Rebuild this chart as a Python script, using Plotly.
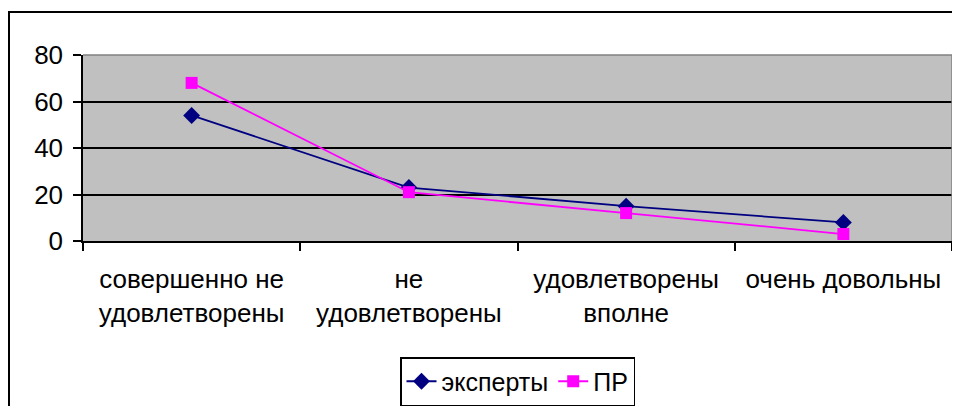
import plotly.graph_objects as go

categories = ["совершенно не<br>удовлетворены", "не<br>удовлетворены",
              "удовлетворены<br>вполне", "очень довольны"]
experts = [54, 23, 15, 8]
pr = [68, 21, 12, 3]
y_ticks = [0, 20, 40, 60, 80]

FONT = "Liberation Sans, Arial, sans-serif"

fig = go.Figure()
fig.add_trace(go.Scatter(
    x=categories, y=experts, name="эксперты", mode="lines+markers",
    line=dict(color="#000080", width=1.8),
    marker=dict(symbol="diamond", size=13, color="#000080"),
))
fig.add_trace(go.Scatter(
    x=categories, y=pr, name="ПР", mode="lines+markers",
    line=dict(color="#FF00FF", width=1.8),
    marker=dict(symbol="square", size=12, color="#FF00FF"),
))

# page body has an 8px margin, so the figure is offset by 8px
W, H = 944, 398
L, R, T, B = 75, 0, 47, 165
pw = W - L - R
ph = H - T - B


def px(x):
    return (x - L) / pw


def py(y):
    return (H - B - y) / ph


fig.update_layout(
    width=W, height=H,
    margin=dict(l=L, r=R, t=T, b=B, pad=0, autoexpand=False),
    paper_bgcolor="white",
    plot_bgcolor="#C0C0C0",
    font=dict(family=FONT, size=26, color="black"),
    showlegend=True,
    legend=dict(
        orientation="h",
        x=0.5, xanchor="center",
        y=py(349), yanchor="top",
        bordercolor="black", borderwidth=1.5,
        bgcolor="white",
        font=dict(family=FONT, size=25, color="black"),
        itemwidth=30,
        tracegroupgap=0,
    ),
    xaxis=dict(
        type="category",
        range=[-0.5, 3.5],
        showgrid=False,
        showline=True, linecolor="black", linewidth=1.5,
        ticks="outside", ticklen=8, tickcolor="black", tickwidth=1.5,
        tickson="boundaries",
        ticklabelstandoff=14,
        zeroline=False,
        fixedrange=True,
        automargin=False,
    ),
    yaxis=dict(
        range=[0, 80],
        tickvals=y_ticks,
        showgrid=True, gridcolor="black", gridwidth=1.5,
        showline=True, linecolor="black", linewidth=1.5,
        ticks="outside", ticklen=8, tickcolor="black", tickwidth=1.5,
        ticklabelstandoff=5,
        zeroline=False,
        fixedrange=True,
        automargin=False,
    ),
    shapes=[
        # plot-area border (gray, top and right)
        dict(type="line", xref="paper", yref="paper", x0=0, x1=1, y0=1, y1=1,
             line=dict(color="#808080", width=1.5), layer="above"),
        dict(type="line", xref="paper", yref="paper", x0=1, x1=1, y0=0, y1=1,
             line=dict(color="#808080", width=1.5), layer="above"),
        # outer chart border
        dict(type="rect", xref="paper", yref="paper",
             x0=px(1), x1=px(970), y0=py(430), y1=py(4),
             line=dict(color="black", width=2), layer="above"),
    ],
)

fig.write_html("out.html")
